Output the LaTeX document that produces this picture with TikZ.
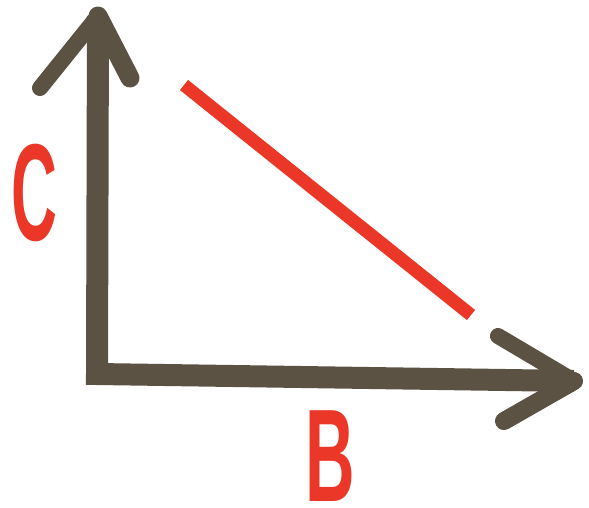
\documentclass[tikz,border=0pt]{standalone}
\usepackage{fontspec}
\setmainfont{Liberation Sans}
\usetikzlibrary{positioning}
\definecolor{ink}{HTML}{5B5243}
\definecolor{accent}{HTML}{EA3728}
\tikzset{
  shaft/.style={draw=ink,line width=22pt,line join=miter},
  barb/.style={draw=ink,line width=16pt,line cap=round},
  slope/.style={draw=accent,line width=13pt},
  letter/.style={text=accent,inner sep=0pt,font=\bfseries\fontsize{132}{132}\selectfont}
}
\begin{document}
\begin{tikzpicture}[x=1pt,y=-1pt]
  \useasboundingbox (0,0) rectangle (589,507);
  % axes
  \coordinate (O) at (97,374);
  \coordinate (top) at (98,16);
  \coordinate (right) at (574,381);
  \draw[shaft] (top) -- (O) -- (right);
  \draw[barb] (top) -- (40,88);
  \draw[barb,line width=19pt] (top) -- (130,78);
  \draw[barb] (right) -- (498,336);
  \draw[barb,line width=18pt] (right) -- (504,421);
  % red line
  \coordinate (s) at (184,85);
  \coordinate (e) at (471,315);
  \draw[slope] (s) -- (e);
  % labels
  \node[letter,font=\bfseries\fontsize{138}{138}\selectfont] (labC) at (34,193) {\scalebox{0.46}[1]{C}};
  \node[letter] (labB) at (330,456) {\scalebox{0.52}[1]{B}};
\end{tikzpicture}
\end{document}
